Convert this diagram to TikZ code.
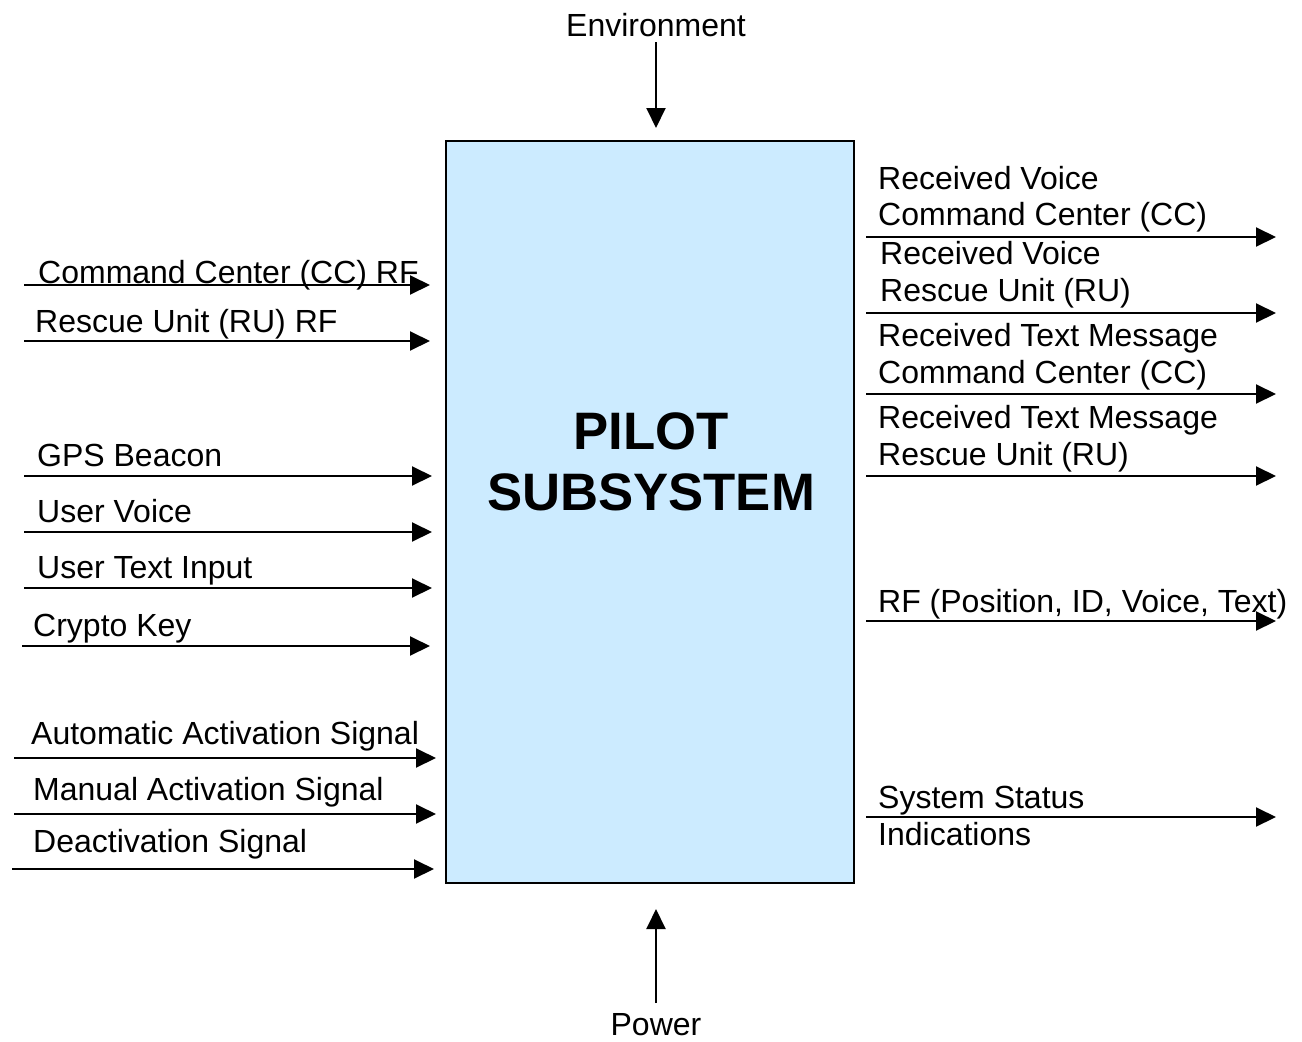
\documentclass[tikz,border=0pt]{standalone}
\usepackage{fontspec}
\setmainfont{Liberation Sans}
\usetikzlibrary{arrows.meta}
\definecolor{boxblue}{HTML}{CCEBFF}
\tikzset{
  lbl/.style={anchor=base west, inner sep=0pt, font=\fontsize{32}{36.8}\selectfont},
  ctr/.style={anchor=base, inner sep=0pt, font=\fontsize{32}{36.8}\selectfont},
  big/.style={anchor=base, inner sep=0pt, font=\fontsize{52.7}{60.6}\selectfont\bfseries},
  flow/.style={line width=2pt, -{Triangle[length=20pt,width=19pt]}},
  subsys/.style={draw, line width=2.2pt, fill=boxblue}
}
\begin{document}
\begin{tikzpicture}[x=1pt,y=-1pt]
\useasboundingbox (0,0) rectangle (1302,1042);
\fill[white] (0,0) rectangle (1302,1042);
% main box
\draw[subsys] (446,141) rectangle (854,883);
\node[big] (pilot) at (651,449) {PILOT};
\node[big] (subsystem) at (651,510) {SUBSYSTEM};
% environment / power
\node[ctr] (env) at (656,36) {Environment};
\coordinate (envS) at (656,42);
\coordinate (envE) at (656,128);
\draw[flow] (envS) -- (envE);
\node[ctr] (power) at (656,1035) {Power};
\coordinate (powS) at (656,1003);
\coordinate (powE) at (656,909);
\draw[flow] (powS) -- (powE);
% left inputs
\foreach \nm/\y/\xs/\xe/\lx/\by/\txt in {
  ccrf/285/24/430/38/283/{Command Center (CC) RF},
  rurf/341/24/430/35/332/{Rescue Unit (RU) RF},
  gps/476/24/432/37/466/{GPS Beacon},
  voice/532/24/432/37/522/{User Voice},
  text/588/24/432/37/578/{User Text Input},
  crypto/646/22/430/33/636/{Crypto Key},
  auto/758/14/436/31/744/{Automatic Activation Signal},
  manual/814/14/436/33/800/{Manual Activation Signal},
  deact/869/12/434/33/852/{Deactivation Signal}}{
  \node[lbl] (\nm L) at (\lx,\by) {\txt};
  \coordinate (\nm S) at (\xs,\y);
  \coordinate (\nm E) at (\xe,\y);
  \draw[flow] (\nm S) -- (\nm E);
}
% right outputs
\foreach \nm/\y/\lx/\bya/\byb/\ta/\tb in {
  rvcc/237/878/189/225/{Received Voice}/{Command Center (CC)},
  rvru/313/880/264/301/{Received Voice}/{Rescue Unit (RU)},
  rtcc/394/878/346/383/{Received Text Message}/{Command Center (CC)},
  rtru/476/878/428/465/{Received Text Message}/{Rescue Unit (RU)},
  sys/817/878/808/845/{System Status}/{Indications}}{
  \node[lbl] (\nm A) at (\lx,\bya) {\ta};
  \node[lbl] (\nm B) at (\lx,\byb) {\tb};
  \coordinate (\nm S) at (866,\y);
  \coordinate (\nm E) at (1276,\y);
  \draw[flow] (\nm S) -- (\nm E);
}
\node[lbl] (rfL) at (878,612) {RF (Position, ID, Voice, Text)};
\coordinate (rfS) at (866,621);
\coordinate (rfE) at (1276,621);
\draw[flow] (rfS) -- (rfE);
\end{tikzpicture}
\end{document}
